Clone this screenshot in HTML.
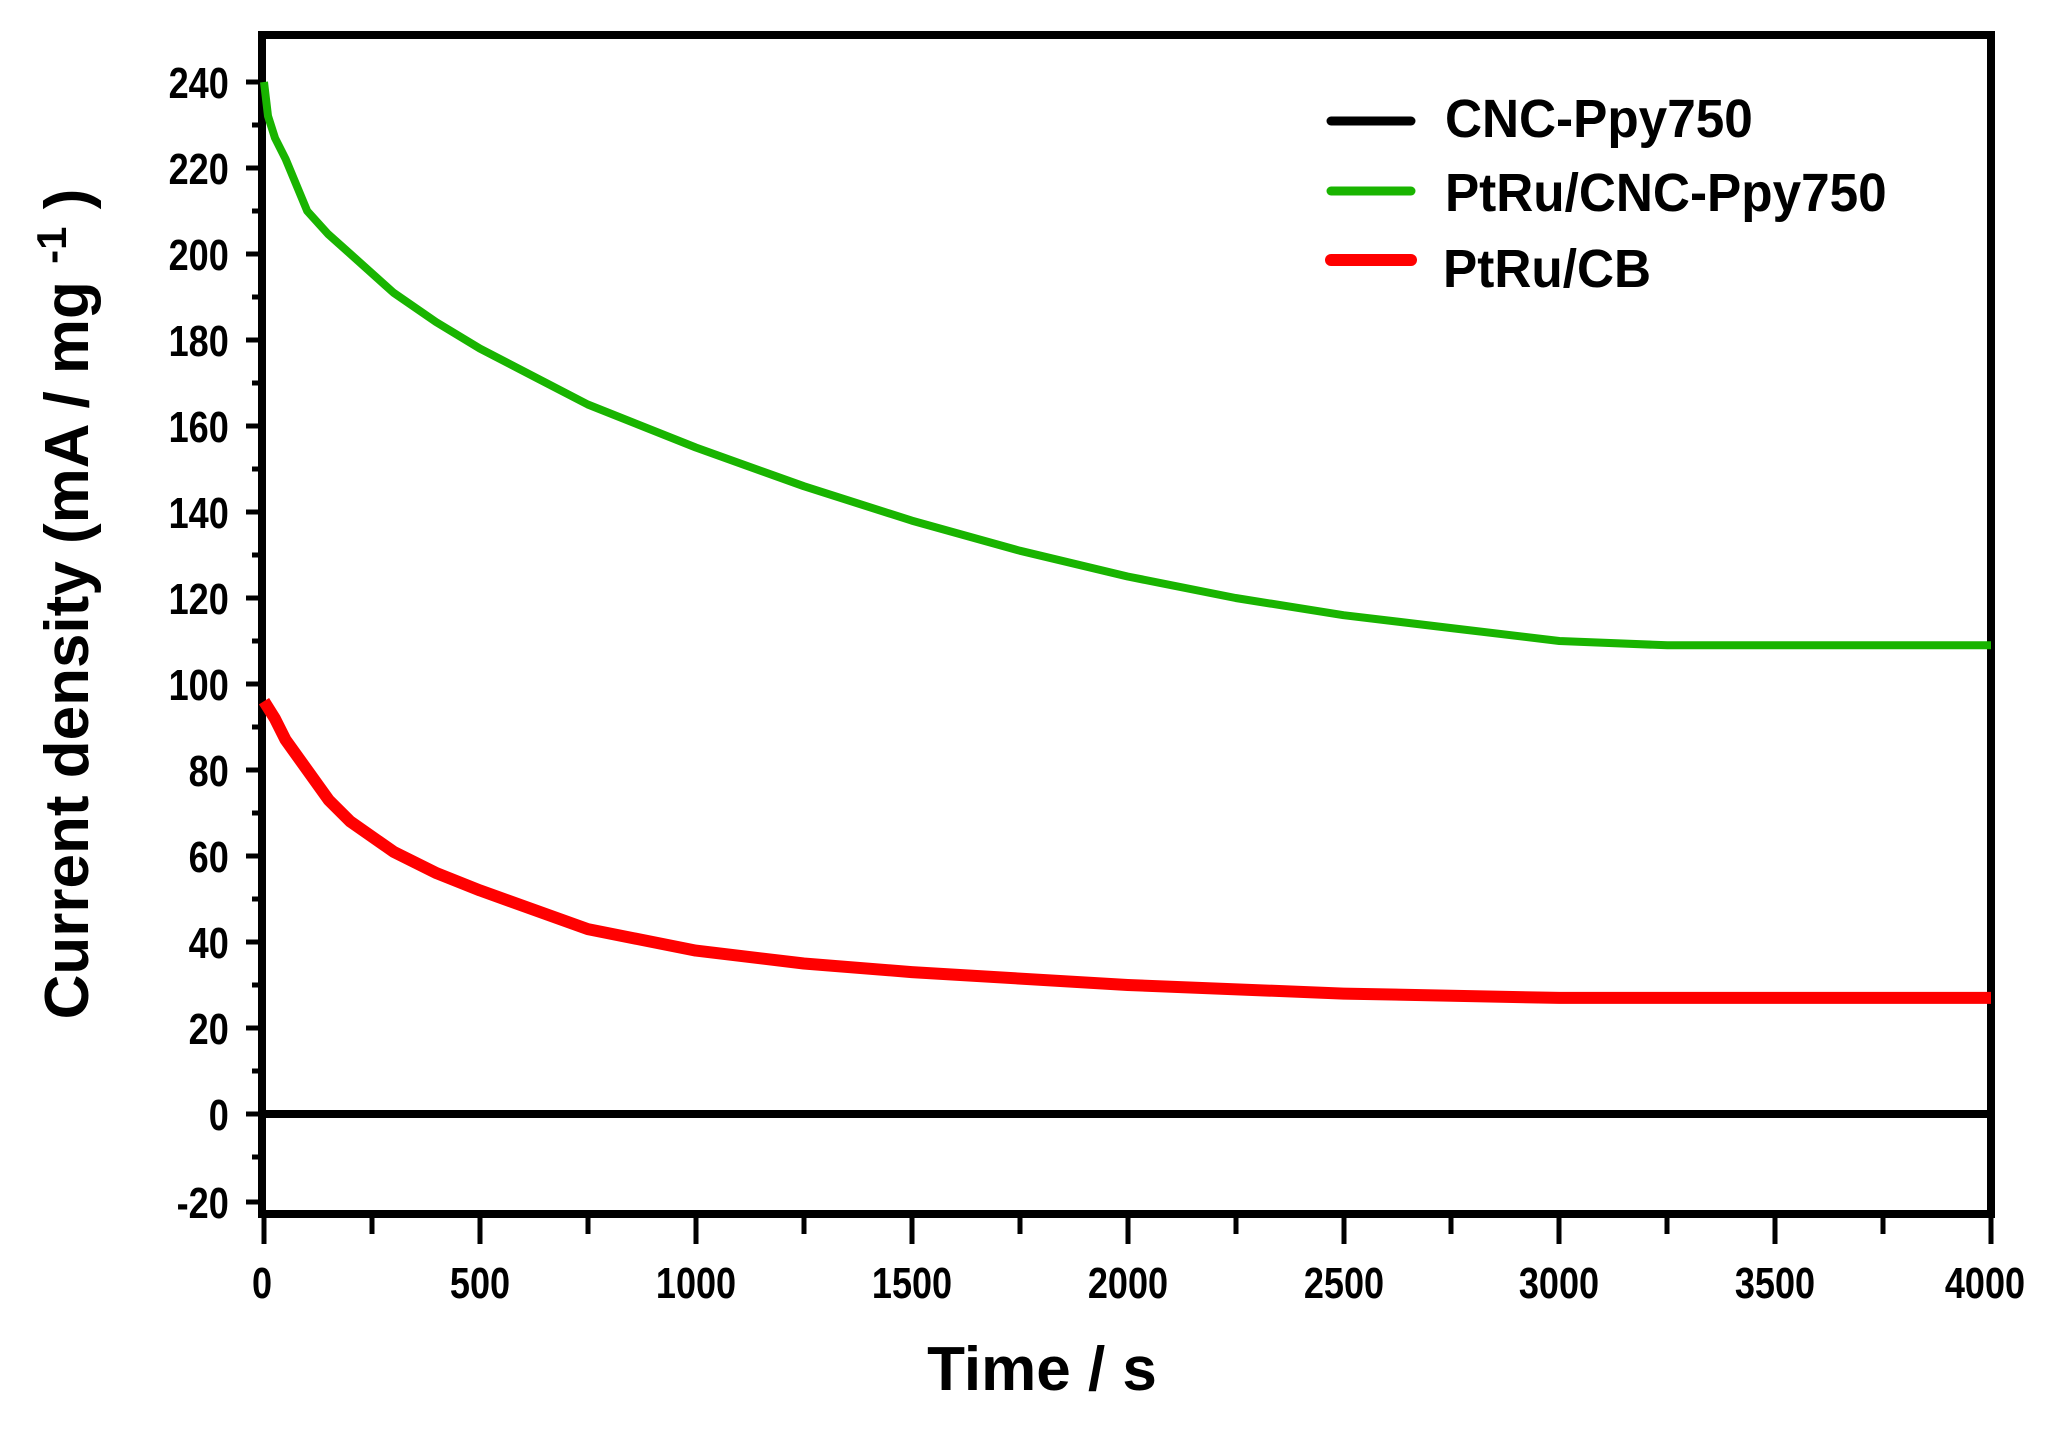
<!DOCTYPE html>
<html><head><style>html,body{margin:0;padding:0;background:#fff}svg{display:block}</style></head>
<body>
<svg width="2051" height="1432" viewBox="0 0 2051 1432" xmlns="http://www.w3.org/2000/svg" font-family="Liberation Sans, Arial, sans-serif" font-weight="bold">
<rect width="2051" height="1432" fill="#fff"/>
<g stroke="#000" stroke-width="5">
<line x1="246" y1="82" x2="262" y2="82"/><line x1="252" y1="125" x2="262" y2="125"/>
<line x1="246" y1="168" x2="262" y2="168"/><line x1="252" y1="211" x2="262" y2="211"/>
<line x1="246" y1="254" x2="262" y2="254"/><line x1="252" y1="297" x2="262" y2="297"/>
<line x1="246" y1="340" x2="262" y2="340"/><line x1="252" y1="383" x2="262" y2="383"/>
<line x1="246" y1="426" x2="262" y2="426"/><line x1="252" y1="469" x2="262" y2="469"/>
<line x1="246" y1="512" x2="262" y2="512"/><line x1="252" y1="555" x2="262" y2="555"/>
<line x1="246" y1="598" x2="262" y2="598"/><line x1="252" y1="641" x2="262" y2="641"/>
<line x1="246" y1="684" x2="262" y2="684"/><line x1="252" y1="727" x2="262" y2="727"/>
<line x1="246" y1="770" x2="262" y2="770"/><line x1="252" y1="813" x2="262" y2="813"/>
<line x1="246" y1="856" x2="262" y2="856"/><line x1="252" y1="899" x2="262" y2="899"/>
<line x1="246" y1="942" x2="262" y2="942"/><line x1="252" y1="985" x2="262" y2="985"/>
<line x1="246" y1="1028" x2="262" y2="1028"/><line x1="252" y1="1071" x2="262" y2="1071"/>
<line x1="246" y1="1114" x2="262" y2="1114"/><line x1="252" y1="1157" x2="262" y2="1157"/>
<line x1="246" y1="1202" x2="262" y2="1202"/>
</g>
<g stroke="#000" stroke-width="5">
<line x1="264" y1="1214" x2="264" y2="1244"/><line x1="372" y1="1214" x2="372" y2="1234"/>
<line x1="480" y1="1214" x2="480" y2="1244"/><line x1="588" y1="1214" x2="588" y2="1234"/>
<line x1="696" y1="1214" x2="696" y2="1244"/><line x1="804" y1="1214" x2="804" y2="1234"/>
<line x1="912" y1="1214" x2="912" y2="1244"/><line x1="1020" y1="1214" x2="1020" y2="1234"/>
<line x1="1128" y1="1214" x2="1128" y2="1244"/><line x1="1236" y1="1214" x2="1236" y2="1234"/>
<line x1="1344" y1="1214" x2="1344" y2="1244"/><line x1="1451" y1="1214" x2="1451" y2="1234"/>
<line x1="1559" y1="1214" x2="1559" y2="1244"/><line x1="1667" y1="1214" x2="1667" y2="1234"/>
<line x1="1775" y1="1214" x2="1775" y2="1244"/><line x1="1883" y1="1214" x2="1883" y2="1234"/>
<line x1="1991" y1="1214" x2="1991" y2="1244"/>
</g>
<rect x="262" y="35" width="1729" height="1179" fill="none" stroke="#000" stroke-width="8"/>
<line x1="264" y1="1114" x2="1991" y2="1114" stroke="#000" stroke-width="8"/>
<polyline fill="none" stroke="#19b400" stroke-width="8" stroke-linejoin="round" points="264,82 268,116 275,138 285.6,159 307.2,211 328,234 350.4,254 393.5,292.7 436,322 479.9,348.6 587.8,404.5 695.8,447.5 803.8,486.2 911.7,520.6 1019.7,550.7 1127.6,576.5 1235.6,598 1343.5,615.2 1451.5,628.1 1559.4,641 1667.4,645.3 1991,645.3"/>
<polyline fill="none" stroke="#ff0000" stroke-width="12" stroke-linejoin="round" points="264,701.2 274.8,718.4 285.6,739.9 307.2,770 328.8,800.1 350.4,821.6 393.5,851.7 436.7,873.2 479.9,890.4 587.8,929.1 695.8,950.6 803.8,963.5 911.7,972.1 1127.6,985 1343.5,993.6 1559.4,997.9 1991,997.9"/>
<g font-size="44" text-anchor="end" fill="#000" transform="scale(0.82 1)">
<text x="279" y="98">240</text><text x="279" y="184">220</text><text x="279" y="270">200</text>
<text x="279" y="356">180</text><text x="279" y="442">160</text><text x="279" y="528">140</text>
<text x="279" y="614">120</text><text x="279" y="700">100</text><text x="279" y="786">80</text>
<text x="279" y="872">60</text><text x="279" y="958">40</text><text x="279" y="1044">20</text>
<text x="279" y="1130">0</text><text x="279" y="1218">-20</text>
</g>
<g font-size="44" text-anchor="middle" fill="#000" transform="scale(0.82 1)">
<text x="319.5" y="1298">0</text><text x="585.4" y="1298">500</text><text x="848.8" y="1298">1000</text>
<text x="1112.2" y="1298">1500</text><text x="1375.6" y="1298">2000</text><text x="1639" y="1298">2500</text>
<text x="1901.2" y="1298">3000</text><text x="2164.6" y="1298">3500</text><text x="2420.7" y="1298">4000</text>
</g>
<text x="1042" y="1390" font-size="62" text-anchor="middle">Time / s</text>
<text transform="translate(88,604) rotate(-90)" font-size="62" text-anchor="middle">Current density (mA / mg <tspan dy="-22" font-size="42">-1</tspan><tspan dy="22"> )</tspan></text>
<g stroke-linecap="round">
<line x1="1331" y1="121" x2="1411" y2="121" stroke="#000" stroke-width="9"/>
<line x1="1331" y1="191" x2="1411" y2="191" stroke="#19b400" stroke-width="9"/>
<line x1="1331" y1="260" x2="1411" y2="260" stroke="#ff0000" stroke-width="12"/>
</g>
<g font-size="54" fill="#000" transform="scale(0.95 1)">
<text x="1521" y="137">CNC-Ppy750</text>
<text x="1521" y="211">PtRu/CNC-Ppy750</text>
<text x="1519" y="287">PtRu/CB</text>
</g>
</svg>
</body></html>
